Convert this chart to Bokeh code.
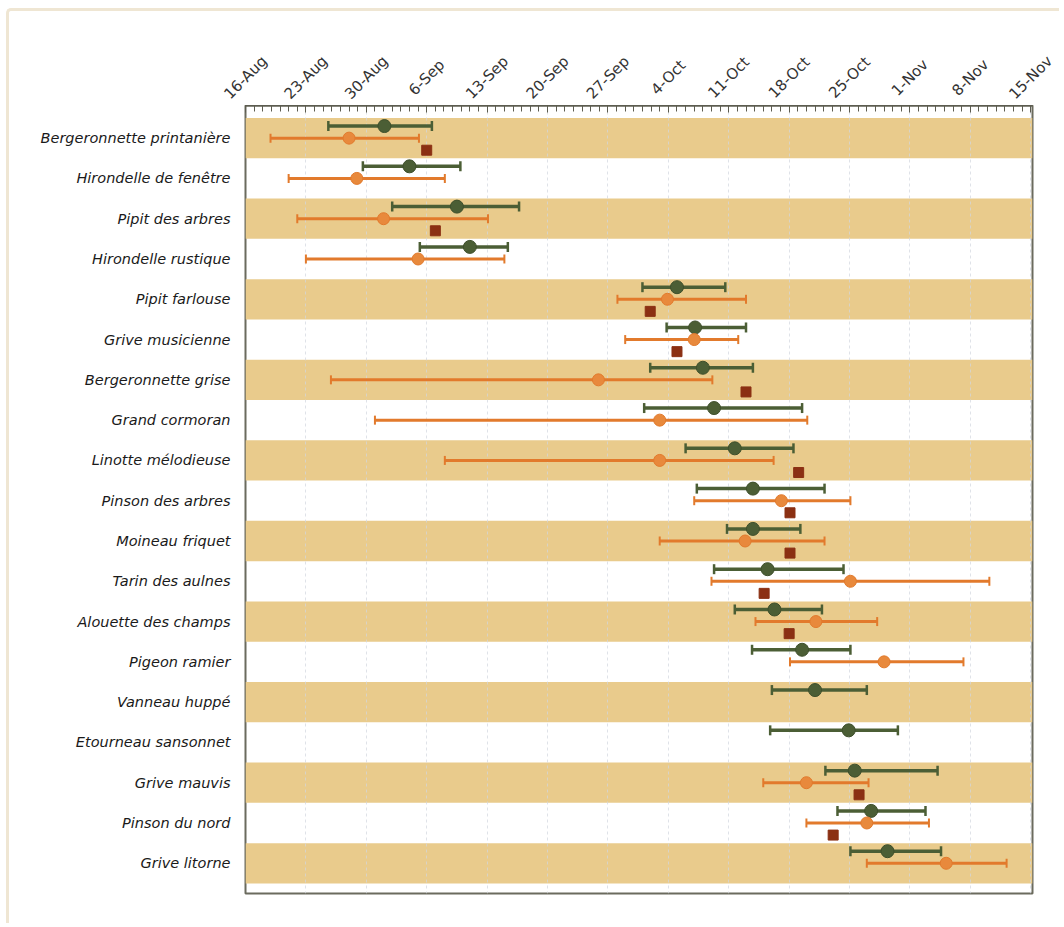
import math
from bokeh.plotting import figure
from bokeh.models import ColumnDataSource, FixedTicker, Range1d
from bokeh.layouts import column
from bokeh.core.properties import value
from bokeh.embed import file_html
from bokeh.resources import INLINE

species = [
    "Bergeronnette printanière", "Hirondelle de fenêtre", "Pipit des arbres",
    "Hirondelle rustique", "Pipit farlouse", "Grive musicienne",
    "Bergeronnette grise", "Grand cormoran", "Linotte mélodieuse",
    "Pinson des arbres", "Moineau friquet", "Tarin des aulnes",
    "Alouette des champs", "Pigeon ramier", "Vanneau huppé",
    "Etourneau sansonnet", "Grive mauvis", "Pinson du nord", "Grive litorne",
]

# days counted from 16 August
tick_days = [0, 7, 14, 21, 28, 35, 42, 49, 56, 63, 70, 77, 84, 91]
tick_labels = ["16-Aug", "23-Aug", "30-Aug", "6-Sep", "13-Sep", "20-Sep", "27-Sep",
               "4-Oct", "11-Oct", "18-Oct", "25-Oct", "1-Nov", "8-Nov", "15-Nov"]

green_low  = [9.6, 13.6, 17.0, 20.2, 46.0, 48.8, 46.9, 46.2, 51.0, 52.3, 55.8, 54.3, 56.7, 58.7, 61.0, 60.8, 67.2, 68.6, 70.1]
green_mid  = [16.1, 19.0, 24.5, 26.0, 50.0, 52.1, 53.0, 54.3, 56.7, 58.8, 58.8, 60.5, 61.3, 64.5, 66.0, 69.9, 70.6, 72.5, 74.4]
green_high = [21.6, 24.9, 31.7, 30.4, 55.6, 58.0, 58.8, 64.5, 63.5, 67.1, 64.3, 69.3, 66.8, 70.1, 72.0, 75.6, 80.2, 78.8, 80.6]

orange_low  = [2.9, 5.0, 6.0, 7.0, 43.1, 44.0, 9.9, 15.0, 23.1, 52.0, 48.0, 54.0, 59.1, 63.1, None, None, 60.0, 65.0, 72.0]
orange_mid  = [12.0, 12.9, 16.0, 20.0, 48.9, 52.0, 40.9, 48.0, 48.0, 62.1, 57.9, 70.1, 66.1, 74.0, None, None, 65.0, 72.0, 81.2]
orange_high = [20.1, 23.1, 28.1, 30.0, 58.0, 57.1, 54.1, 65.1, 61.2, 70.1, 67.1, 86.2, 73.2, 83.2, None, None, 72.2, 79.2, 88.2]

square_day = [21.0, None, 22.0, None, 46.9, 50.0, 58.0, None, 64.1, 63.1, 63.1, 60.1, 63.0, None, None, None, 71.1, 68.1, None]

# layout constants
X_START, X_END = 0, 91.2
Y_BOTTOM, Y_TOP = 18.75, -0.81
OFF = 0.3
W = 1050
TOTAL_H = 912
LEFT, RIGHT = 236, 27
FRAME_W = W - LEFT - RIGHT
HEAD_H = 94
DAY_PX = FRAME_W / (X_END - X_START)
LABEL_CY = 28  # px above the bottom of the header strip

GREEN = "#4b5e35"
ORANGE = "#e27a2c"
ORANGE_PT = "#e8893c"
SQUARE = "#8b3013"
BAND = "#e9cb8c"
AXIS = "#5c5c50"

# ---------- header strip holding the rotated date labels (frame = whole strip) ----------
head = figure(width=W, height=HEAD_H,
              x_range=Range1d(X_START - LEFT / DAY_PX, X_END + RIGHT / DAY_PX),
              y_range=Range1d(0, HEAD_H),
              x_axis_type=None, y_axis_type=None,
              output_backend="svg", toolbar_location=None,
              min_border_left=0, min_border_right=0,
              min_border_top=0, min_border_bottom=0)
head.frame_align = False
head.outline_line_color = None
head.background_fill_color = "white"
head.border_fill_color = "white"
head.grid.visible = False
head.text(x=tick_days, y=[LABEL_CY] * len(tick_days), text=tick_labels,
          angle=math.pi / 4, text_align="center", text_baseline="middle",
          text_font=value("DejaVu Sans"), text_font_size="15px", text_color="#333333")

# ---------- main chart ----------
p = figure(width=W, height=TOTAL_H - HEAD_H,
           x_range=Range1d(X_START, X_END), y_range=Range1d(Y_BOTTOM, Y_TOP),
           x_axis_location="above", output_backend="svg", toolbar_location=None,
           min_border_left=LEFT, min_border_right=RIGHT, min_border_top=0, min_border_bottom=30)
p.frame_align = False
p.background_fill_color = "white"
p.border_fill_color = "white"
p.outline_line_color = "#6b6b5e"
p.outline_line_width = 2

# alternating bands
band_rows = [i for i in range(len(species)) if i % 2 == 0]
p.hbar(y=band_rows, height=1.0, left=X_START, right=X_END, fill_color=BAND,
       line_color=None, level="image")

rows = list(range(len(species)))

# green series
gsrc = ColumnDataSource(dict(y=[r - OFF for r in rows], lo=green_low, mid=green_mid, hi=green_high))
p.segment(x0="lo", y0="y", x1="hi", y1="y", source=gsrc, line_color=GREEN, line_width=3.5)
p.scatter(x="lo", y="y", source=gsrc, marker="dash", angle=math.pi / 2, size=10,
          line_color=GREEN, line_width=2.5)
p.scatter(x="hi", y="y", source=gsrc, marker="dash", angle=math.pi / 2, size=10,
          line_color=GREEN, line_width=2.5)
p.scatter(x="mid", y="y", source=gsrc, size=13, fill_color=GREEN, line_color="#3e4f2b")

# orange series
oi = [i for i in rows if orange_mid[i] is not None]
osrc = ColumnDataSource(dict(y=[float(i) for i in oi], lo=[orange_low[i] for i in oi],
                             mid=[orange_mid[i] for i in oi], hi=[orange_high[i] for i in oi]))
p.segment(x0="lo", y0="y", x1="hi", y1="y", source=osrc, line_color=ORANGE, line_width=3)
p.scatter(x="lo", y="y", source=osrc, marker="dash", angle=math.pi / 2, size=9,
          line_color=ORANGE, line_width=2)
p.scatter(x="hi", y="y", source=osrc, marker="dash", angle=math.pi / 2, size=9,
          line_color=ORANGE, line_width=2)
p.scatter(x="mid", y="y", source=osrc, size=12, fill_color=ORANGE_PT, line_color=ORANGE)

# squares
si = [i for i in rows if square_day[i] is not None]
ssrc = ColumnDataSource(dict(y=[i + OFF for i in si], x=[square_day[i] for i in si]))
p.scatter(x="x", y="y", source=ssrc, marker="square", size=10, fill_color=SQUARE,
          line_color=SQUARE)

# x axis (top): ticks only, labels are in the header strip
xa = p.xaxis[0]
xa.ticker = FixedTicker(ticks=tick_days, minor_ticks=list(range(0, 92)))
xa.major_label_overrides = {d: "" for d in tick_days}
xa.major_label_text_font_size = "0px"
xa.major_label_standoff = 0
xa.axis_line_color = AXIS
xa.axis_line_width = 2
xa.major_tick_in = 7
xa.major_tick_out = 0
xa.minor_tick_in = 6
xa.minor_tick_out = 0
xa.major_tick_line_color = AXIS
xa.minor_tick_line_color = AXIS

# y axis
ya = p.yaxis[0]
ya.ticker = FixedTicker(ticks=rows)
ya.major_label_overrides = {i: s for i, s in enumerate(species)}
ya.major_label_text_font = "DejaVu Sans"
ya.major_label_text_font_style = "italic"
ya.major_label_text_font_size = "14.5px"
ya.major_label_text_color = "#1a1a1a"
ya.axis_line_color = None
ya.major_tick_line_color = None
ya.minor_tick_line_color = None
ya.major_label_standoff = 9

p.xgrid.ticker = FixedTicker(ticks=tick_days)
p.xgrid.grid_line_color = "#d2d5de"
p.xgrid.grid_line_dash = "3 3"
p.xgrid.grid_line_alpha = 0.7
p.ygrid.visible = False

layout = column(head, p, spacing=0)
layout.styles = {"border-left": "3px solid #efe6d3", "border-top": "3px solid #efe6d3",
                 "border-top-left-radius": "5px", "margin-left": "6px", "margin-top": "8px",
                 "background-color": "white"}

open("out.html", "w").write(file_html(layout, INLINE))
